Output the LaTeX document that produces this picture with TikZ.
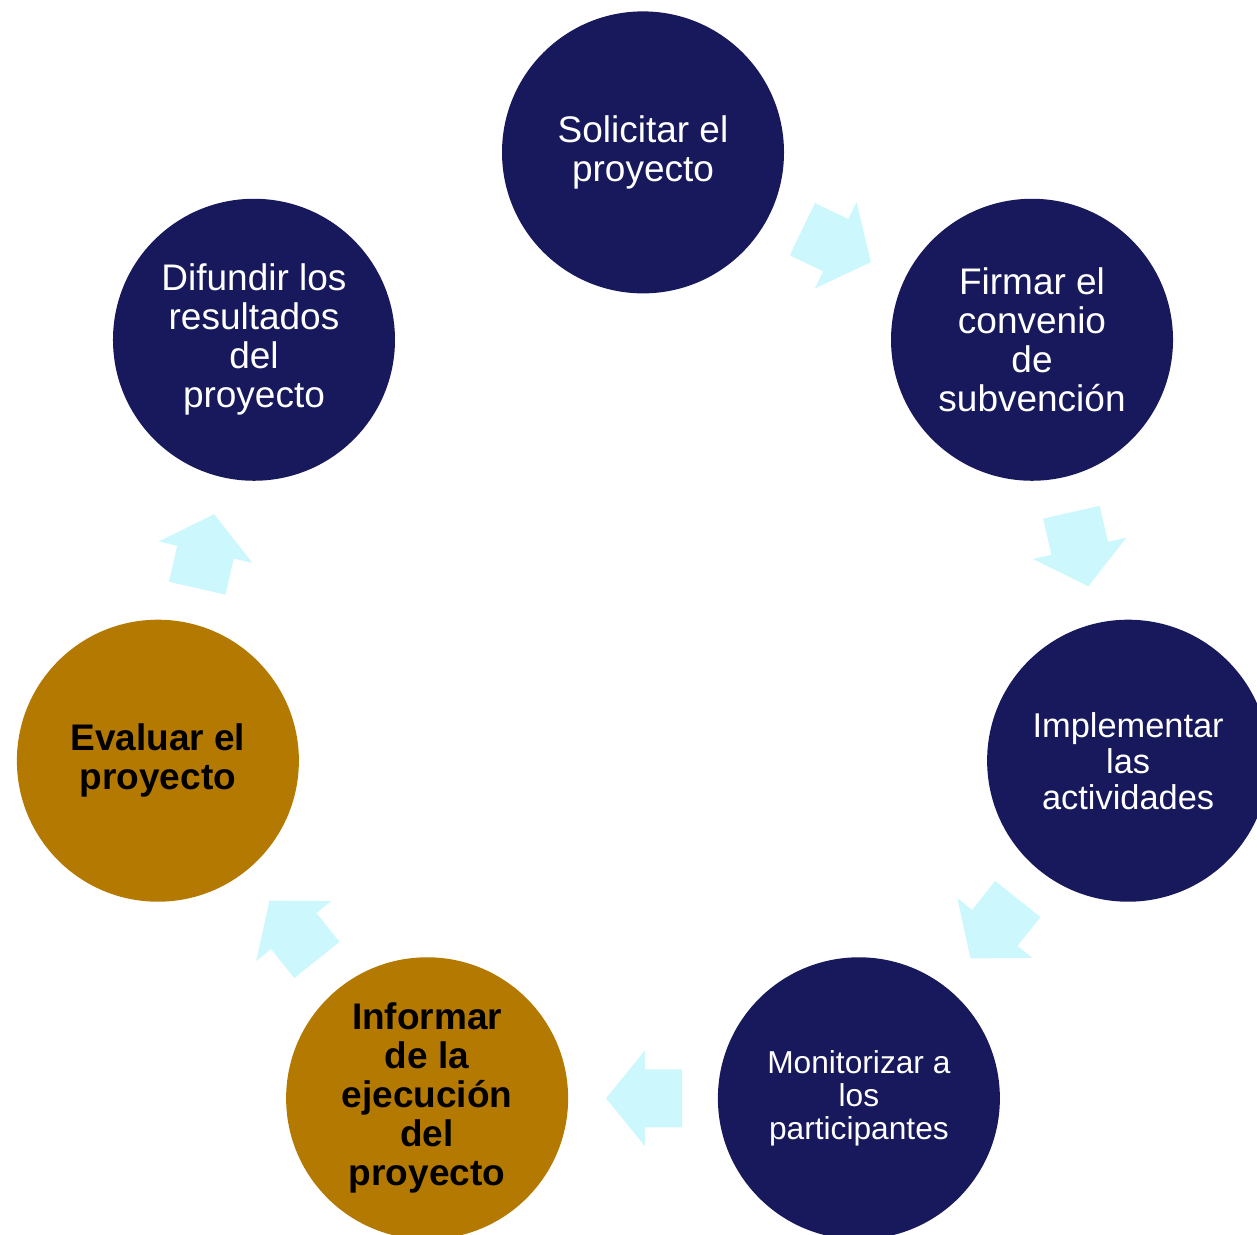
\documentclass[tikz,border=0pt]{standalone}
\usepackage{fontspec}
\setmainfont{Liberation Sans}
\usetikzlibrary{calc}
\definecolor{navyc}{RGB}{24,25,92}
\definecolor{goldc}{RGB}{180,121,0}
\definecolor{arrowc}{RGB}{204,247,252}
\tikzset{
  stage/.style={circle, minimum size=282pt, inner sep=0pt, align=center, font=\fontsize{37}{39}\selectfont},
  navystage/.style={stage, fill=navyc, text=white},
  goldstage/.style={stage, fill=goldc, text=black, font=\bfseries\fontsize{37}{39}\selectfont},
  blockarr/.pic={\fill[arrowc] (-39,-29) -- (-2,-29) -- (-2,-48) -- (37,0) -- (-2,48) -- (-2,29) -- (-39,29) -- cycle;}
}
\begin{document}
\begin{tikzpicture}[x=1pt,y=1pt]
\useasboundingbox (0,0) rectangle (1257,1234);
\clip (0,0) rectangle (1257,1234);
\coordinate (c) at (643,584);
\node[navystage] (s1) at ($(c)+(90:497.6)$) {Solicitar el\\proyecto};
\node[navystage] (s2) at ($(c)+(38.571:497.6)$) {Firmar el\\convenio\\de\\subvención};
\node[navystage, font=\fontsize{34.4}{36}\selectfont] (s3) at ($(c)+(-12.857:497.6)$) {Implementar\\las\\actividades};
\node[navystage, font=\fontsize{31.7}{33}\selectfont] (s4) at ($(c)+(-64.286:497.6)$) {Monitorizar a\\los\\participantes};
\node[goldstage] (s5) at ($(c)+(-115.714:497.6)$) {Informar\\de la\\ejecución\\del\\proyecto};
\node[goldstage] (s6) at ($(c)+(-167.143:497.6)$) {Evaluar el\\proyecto};
\node[navystage] (s7) at ($(c)+(141.429:497.6)$) {Difundir los\\resultados\\del\\proyecto};
\pic[rotate=-25.714] at ($(s1)!0.5!(s2)$) {blockarr};
\pic[rotate=-77.143] at ($(s2)!0.5!(s3)$) {blockarr};
\pic[rotate=-128.571] at ($(s3)!0.5!(s4)$) {blockarr};
\pic[rotate=180] at ($(s4)!0.5!(s5)$) {blockarr};
\pic[rotate=128.571] at ($(s5)!0.5!(s6)$) {blockarr};
\pic[rotate=77.143] at ($(s6)!0.5!(s7)$) {blockarr};
\end{tikzpicture}
\end{document}
